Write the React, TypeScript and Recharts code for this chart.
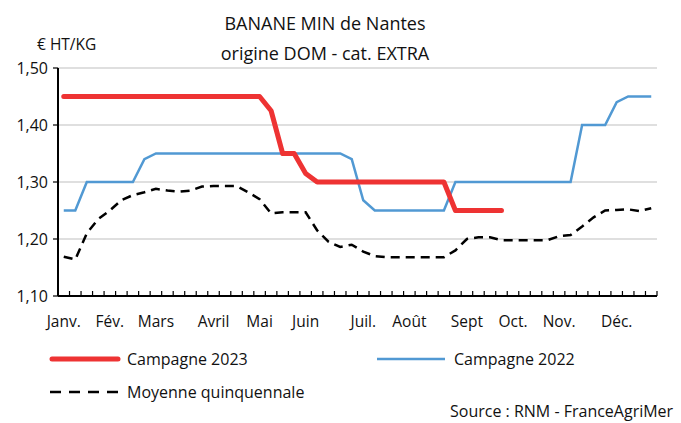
import { CartesianGrid, Line, LineChart, XAxis, YAxis } from 'recharts';

const WEEKS = Array.from({ length: 52 }, (_, i) => i + 1);

// first week of each month -> label
const MONTH_WEEKS = [1, 5, 9, 14, 18, 22, 27, 31, 36, 40, 44, 49];
const MONTH_LABELS = ['Janv.', 'Fév.', 'Mars', 'Avril', 'Mai', 'Juin', 'Juil.', 'Août', 'Sept', 'Oct.', 'Nov.', 'Déc.'];

const Y_TICKS = [1.1, 1.2, 1.3, 1.4, 1.5];

const CAMPAGNE_2023 = [
  1.45, 1.45, 1.45, 1.45, 1.45, 1.45, 1.45, 1.45, 1.45, 1.45,
  1.45, 1.45, 1.45, 1.45, 1.45, 1.45, 1.45, 1.45, 1.425, 1.35,
  1.35, 1.315, 1.3, 1.3, 1.3, 1.3, 1.3, 1.3, 1.3, 1.3,
  1.3, 1.3, 1.3, 1.3, 1.25, 1.25, 1.25, 1.25, 1.25,
];

const CAMPAGNE_2022 = [
  1.25, 1.25, 1.3, 1.3, 1.3, 1.3, 1.3, 1.34, 1.35, 1.35,
  1.35, 1.35, 1.35, 1.35, 1.35, 1.35, 1.35, 1.35, 1.35, 1.35,
  1.35, 1.35, 1.35, 1.35, 1.35, 1.34, 1.268, 1.25, 1.25, 1.25,
  1.25, 1.25, 1.25, 1.25, 1.3, 1.3, 1.3, 1.3, 1.3, 1.3,
  1.3, 1.3, 1.3, 1.3, 1.3, 1.4, 1.4, 1.4, 1.44, 1.45,
  1.45, 1.45,
];

const MOYENNE = [
  1.169, 1.164, 1.21, 1.235, 1.25, 1.268, 1.277, 1.282, 1.288, 1.285,
  1.283, 1.285, 1.292, 1.293, 1.293, 1.293, 1.282, 1.27, 1.245, 1.247,
  1.247, 1.247, 1.215, 1.195, 1.186, 1.19, 1.178, 1.17, 1.168, 1.168,
  1.168, 1.168, 1.168, 1.168, 1.18, 1.2, 1.203, 1.203, 1.198, 1.198,
  1.198, 1.198, 1.198, 1.205, 1.207, 1.222, 1.238, 1.25, 1.251, 1.252,
  1.249, 1.254,
];

const RED = '#EE3333';
const BLUE = '#5199D3';
const FONT = '"Open Sans", sans-serif';

const data = WEEKS.map((w, i) => ({
  // x placed at centre of the week's band, tick marks fall between weeks
  x: i + 0.5,
  c2023: CAMPAGNE_2023[i] ?? null,
  c2022: CAMPAGNE_2022[i],
  moy: MOYENNE[i],
}));

const labelAt: Record<string, string> = {};
MONTH_WEEKS.forEach((w, i) => {
  labelAt[String(w - 0.5)] = MONTH_LABELS[i];
});

const xTicks = [
  ...Array.from({ length: 53 }, (_, i) => i),
  ...MONTH_WEEKS.map((w) => w - 0.5),
].sort((a, b) => a - b);

function WeekTick(props: any) {
  const { x, y, payload } = props;
  const v = payload.value as number;
  if (Number.isInteger(v)) {
    return <line x1={x} x2={x} y1={y} y2={y - 5} stroke="#000" strokeWidth={1.2} />;
  }
  return (
    <text x={x} y={y + 31} textAnchor="middle" fontSize={15.5} fill="#111" fontFamily={FONT}>
      {labelAt[String(v)]}
    </text>
  );
}

function LegendBox() {
  const item = (left: number, top: number, sample: JSX.Element, label: string) => (
    <div style={{ position: 'absolute', left, top, display: 'flex', alignItems: 'center' }}>
      <svg width={76} height={10} style={{ display: 'block' }}>
        {sample}
      </svg>
      <span style={{ marginLeft: 4, fontSize: 16, color: '#111', fontFamily: FONT, whiteSpace: 'nowrap' }}>{label}</span>
    </div>
  );
  return (
    <div style={{ position: 'absolute', left: 0, top: 348, width: 681, height: 60 }}>
      {item(47, 0, <line x1={5} x2={71} y1={5} y2={5} stroke={RED} strokeWidth={5} strokeLinecap="round" />, 'Campagne 2023')}
      {item(374, 0, <line x1={3} x2={71} y1={5} y2={5} stroke={BLUE} strokeWidth={2.5} />, 'Campagne 2022')}
      {item(47, 33, <line x1={3} x2={73} y1={5} y2={5} stroke="#000" strokeWidth={2.5} strokeDasharray="11 8" />, 'Moyenne quinquennale')}
    </div>
  );
}

export default function App() {
  return (
    <div style={{ position: 'absolute', left: 0, top: 0, width: 681, height: 423, overflow: 'hidden', background: '#fff', fontFamily: FONT }}>
      <div style={{ position: 'absolute', left: 0, top: 8, width: 650, textAlign: 'center', fontSize: 18, lineHeight: '30px', color: '#111' }}>
        <div>BANANE MIN de Nantes</div>
        <div>origine DOM - cat. EXTRA</div>
      </div>
      <div style={{ position: 'absolute', left: 37, top: 33, fontSize: 15.5, color: '#111' }}>€ HT/KG</div>
      <div style={{ position: 'absolute', left: 0, top: 0 }}>
        <LineChart width={681} height={423} data={data} margin={{ top: 68, right: 24, bottom: 67, left: 8 }}>
          <CartesianGrid vertical={false} stroke="#D4D4D4" strokeWidth={1.5} />
          <XAxis
            dataKey="x"
            type="number"
            domain={[0, 52]}
            ticks={xTicks}
            interval={0}
            tick={<WeekTick />}
            tickLine={false}
            tickSize={0}
            tickMargin={0}
            axisLine={{ stroke: '#000', strokeWidth: 2 }}
            height={60}
          />
          <YAxis
            domain={[1.1, 1.5]}
            ticks={Y_TICKS}
            interval={0}
            width={50}
            tickSize={5}
            tickMargin={5}
            tickFormatter={(v: number) => v.toFixed(2).replace('.', ',')}
            tick={{ fontSize: 16, fill: '#111', fontFamily: FONT }}
            tickLine={{ stroke: '#000', strokeWidth: 1.2 }}
            axisLine={{ stroke: '#000', strokeWidth: 2 }}
          />
          <Line dataKey="moy" stroke="#000" strokeWidth={2.5} strokeDasharray="9 6" dot={false} isAnimationActive={false} />
          <Line dataKey="c2022" stroke={BLUE} strokeWidth={2.5} dot={false} isAnimationActive={false} />
          <Line dataKey="c2023" stroke={RED} strokeWidth={5} strokeLinecap="round" strokeLinejoin="round" dot={false} connectNulls={false} isAnimationActive={false} />
        </LineChart>
      </div>
      <LegendBox />
      <div style={{ position: 'absolute', left: 450, top: 400, fontSize: 16, lineHeight: '22px', color: '#111', whiteSpace: 'nowrap' }}>
        Source : RNM - FranceAgriMer
      </div>
    </div>
  );
}
